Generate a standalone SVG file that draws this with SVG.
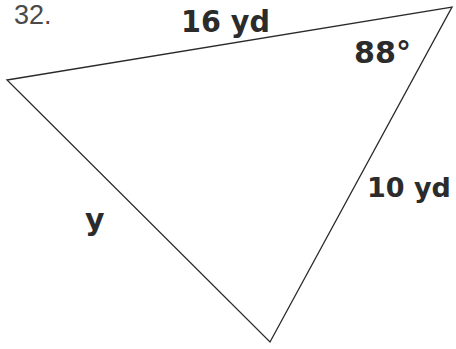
<svg xmlns="http://www.w3.org/2000/svg" width="456" height="349" viewBox="0 0 456 349">
<style>
.lbl{font-family:"DejaVu Sans","Liberation Sans",sans-serif;font-weight:bold;fill:#2b2b2b;font-size:30px}
.num{font-family:"Liberation Sans","DejaVu Sans",sans-serif;fill:#4a4a4a}
.edge{stroke:#2a2a2a;stroke-width:1.3;fill:none;stroke-linejoin:miter}
</style>
<rect width="456" height="349" fill="#ffffff"/>
<text class="num" x="14" y="24" font-size="27">32.</text>
<g id="connectors">
<path class="edge" d="M7,80 L452,7 L270,342 Z"/>
</g>
<g id="label-16yd"><text class="lbl" x="181" y="32" textLength="89" lengthAdjust="spacingAndGlyphs">16 yd</text></g>
<g id="label-88"><text class="lbl" x="354" y="63" textLength="57" lengthAdjust="spacingAndGlyphs">88°</text></g>
<g id="label-10yd"><text class="lbl" x="367" y="197" style="font-size:27px">10 yd</text></g>
<g id="label-y"><text class="lbl" x="85" y="230">y</text></g>
</svg>
